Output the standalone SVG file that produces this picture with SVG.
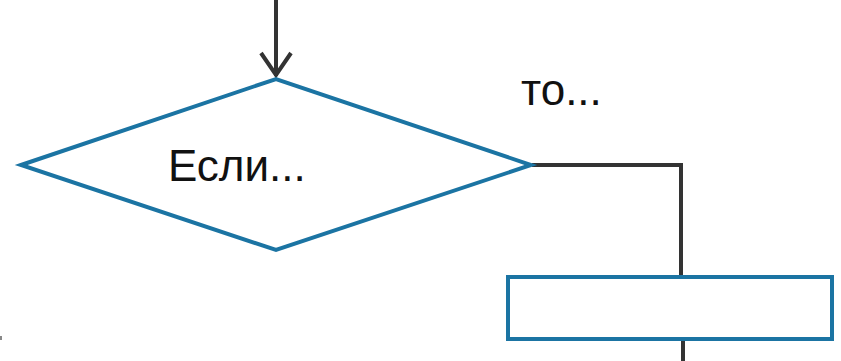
<svg xmlns="http://www.w3.org/2000/svg" width="841" height="361" viewBox="0 0 841 361">
<style>
.shape{fill:#fff;stroke:#1b74a3;stroke-width:4}
.conn{fill:none;stroke:#333;stroke-width:4;stroke-linejoin:miter}
.lbl{font-family:"Liberation Sans",Arial,sans-serif;fill:#111;font-size:44px}
</style>
<rect width="841" height="361" fill="#fff"/>
<g id="connectors">
<line class="conn" x1="276" y1="0" x2="276" y2="76"/>
<polyline class="conn" points="261,53 276,75 291,53"/>
<polyline class="conn" points="532,165 681,165 681,276"/>
<line class="conn" x1="683" y1="340" x2="683" y2="361"/>
</g>
<g id="decision">
<polygon class="shape" points="21,165 276,79 531,165 276,250"/>
<text class="lbl" x="168" y="181">Если...</text>
</g>
<g id="label-to">
<text class="lbl" x="521" y="105">то...</text>
</g>
<g id="process">
<rect class="shape" x="508" y="277" width="324" height="62"/>
</g>
<rect x="0" y="336" width="2" height="4" fill="#888"/>
</svg>
